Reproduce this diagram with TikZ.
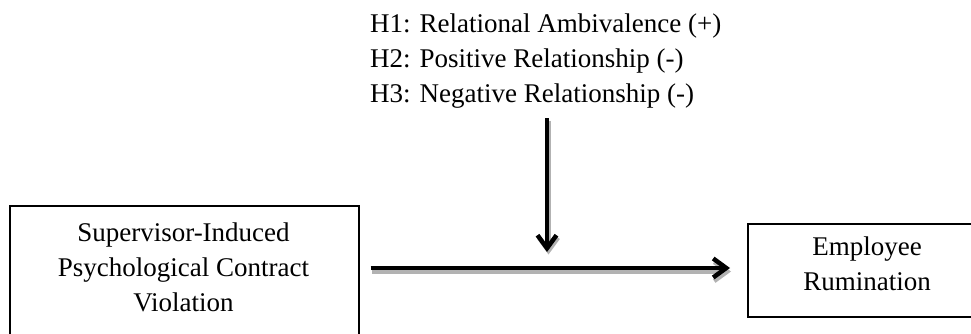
\documentclass[tikz,border=0pt]{standalone}
\usepackage{fontspec}
\setmainfont{Liberation Serif}
\usetikzlibrary{arrows.meta}
\begin{document}
\begin{tikzpicture}[x=1pt,y=-1pt,
  txt/.style={inner sep=0pt, font=\fontsize{27}{35}\selectfont},
  boxnode/.style={draw, line width=1.5pt, inner sep=0pt},
  arr/.style={line width=4pt, -{Straight Barb[length=13pt,width=19pt,line width=4.5pt]}},
  shadowarr/.style={arr, draw=black!30},
]
\useasboundingbox (0,0) rectangle (971,333);
\begin{scope}
\clip (0,0) rectangle (971,333);
\node[boxnode, minimum width=349pt, minimum height=150pt, anchor=north west] (left) at (9,205) {};
\node[boxnode, minimum width=240pt, minimum height=93pt, anchor=north west] (right) at (747,223) {};
\end{scope}
\node[txt, align=center, anchor=north] (lefttext) at (183.5,222.6) {Supervisor-Induced\\Psychological Contract\\Violation};
\node[txt, align=center, anchor=north] (righttext) at (867,236.6) {Employee\\Rumination};
\node[txt, align=left, anchor=north west] (hyp) at (370,13.3) {H1: Relational Ambivalence (+)\\H2: Positive Relationship (-)\\H3: Negative Relationship (-)};
\path (left.north east) ++(11,63) coordinate (hs);
\path (right.north west) ++(-17,45) coordinate (he);
\coordinate (vs) at (547,118);
\coordinate (ve) at (547,252);
\draw[shadowarr] ([shift={(1,3.5)}]hs) -- ([shift={(1,3.5)}]he);
\draw[shadowarr] ([shift={(1.5,2.5)}]vs) -- ([shift={(1.5,2.5)}]ve);
\draw[arr] (hs) -- (he);
\draw[arr] (vs) -- (ve);
\end{tikzpicture}
\end{document}
